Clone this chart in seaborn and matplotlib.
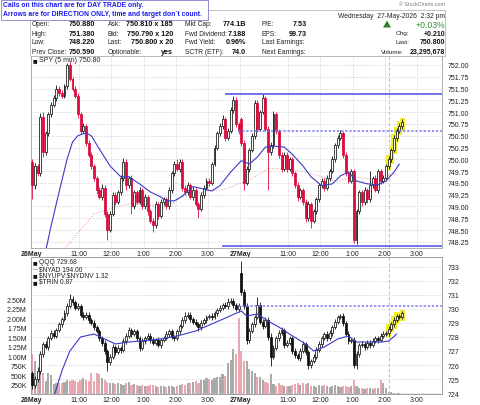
import numpy as np
import matplotlib
matplotlib.use("Agg")
import matplotlib.pyplot as plt
import seaborn as sns
from matplotlib.patches import Rectangle, Polygon

# ---------------- data ----------------
time_ticks = [0, 18, 30, 42, 54, 66, 78, 96, 108, 120, 132, 144]
time_labels = ["26May", "11:00", "12:00", "1:00", "2:00", "3:00",
               "27May", "11:00", "12:00", "1:00", "2:00", "3:00"]

spy_open_d1 = 749.95
spy_open_d2 = 750.85
spy_close_d1 = [749.45, 749.85, 749.70, 750.90, 750.15, 750.55, 750.95, 751.15, 751.30, 751.50,
                751.40, 751.35, 751.55, 752.00, 751.70, 751.50, 751.35, 750.95, 750.60, 750.70,
                750.35, 750.10, 749.85, 749.60, 749.35, 749.20, 749.40, 748.85, 748.50, 748.85,
                749.25, 749.10, 749.30, 749.60, 749.95, 749.45, 749.60, 749.00, 749.30, 749.10,
                749.35, 749.00, 749.20, 748.90, 748.70, 748.60, 749.05, 748.80, 749.10, 749.15,
                749.00, 749.35, 749.70, 749.90, 749.80, 749.95, 749.40, 749.30, 749.45, 749.20,
                749.35, 749.05, 748.95, 749.25, 749.40, 749.55, 749.50, 749.90, 750.25, 750.55,
                750.70, 750.85, 750.45, 750.60, 751.05, 751.25, 750.75, 750.59]
spy_close_d2 = [750.35, 749.50, 749.80, 750.20, 750.50, 751.20, 750.65, 751.00, 751.30, 750.65,
                750.15, 750.30, 750.95, 750.60, 750.10, 749.80, 750.10, 749.80, 750.00, 749.70,
                749.45, 749.20, 749.35, 749.10, 748.75, 749.05, 748.70, 748.90, 749.15, 749.45,
                749.55, 749.40, 749.60, 749.75, 750.00, 750.30, 750.45, 750.55, 750.10, 749.70,
                749.55, 749.75, 748.30, 748.90, 749.30, 749.10, 749.35, 749.15, 749.45, 749.60,
                749.35, 749.75, 749.55, 749.60, 749.85, 750.00, 750.20, 750.45, 750.60, 750.70,
                750.80]
# wick lengths in cents
spy_upper_wick = [5, 8, 6, 8, 10, 6, 5, 6, 6, 8,
                  5, 6, 5, 5, 8, 5, 6, 5, 5, 8,
                  5, 6, 5, 5, 5, 6, 8, 5, 5, 6,
                  5, 6, 5, 6, 8, 5, 5, 6, 5, 6,
                  6, 5, 6, 5, 5, 5, 6, 5, 5, 6,
                  5, 6, 5, 6, 10, 5, 5, 5, 6, 5,
                  6, 5, 5, 6, 5, 6, 5, 5, 6, 5,
                  6, 8, 5, 6, 6, 10, 8, 5,
                  5, 6, 6, 5, 6, 5, 6, 5, 8, 5,
                  5, 6, 8, 5, 5, 6, 5, 6, 5, 5,
                  5, 6, 5, 5, 5, 6, 5, 5, 6, 5,
                  6, 5, 6, 5, 6, 5, 6, 8, 5, 5,
                  6, 5, 5, 5, 6, 5, 6, 5, 30, 5,
                  6, 5, 5, 6, 5, 6, 5, 6, 6, 8,
                  5]
spy_lower_wick = [30, 8, 6, 5, 10, 5, 6, 5, 5, 6,
                  6, 5, 6, 5, 5, 6, 5, 8, 6, 5,
                  6, 5, 5, 6, 8, 5, 6, 8, 20, 5,
                  5, 6, 5, 5, 5, 10, 5, 15, 6, 5,
                  5, 6, 5, 8, 6, 15, 5, 6, 5, 6,
                  6, 5, 6, 5, 5, 6, 8, 5, 6, 5,
                  6, 5, 20, 5, 6, 5, 6, 5, 5, 6,
                  5, 6, 6, 5, 5, 6, 6, 5,
                  6, 15, 5, 6, 5, 6, 8, 5, 5, 6,
                  80, 6, 5, 6, 8, 6, 5, 6, 5, 6,
                  6, 8, 5, 6, 8, 5, 15, 5, 6, 5,
                  6, 8, 5, 6, 5, 6, 5, 5, 8, 6,
                  6, 5, 8, 10, 5, 8, 6, 8, 5, 6,
                  5, 6, 8, 6, 5, 5, 6, 5, 6, 5,
                  6]

qqq_open_d1 = 725.40
qqq_open_d2 = 732.60
qqq_close_d1 = [724.60, 725.00, 725.60, 726.80, 727.50, 727.30, 727.90, 728.30, 728.10, 728.50,
                728.90, 729.30, 729.70, 730.20, 730.70, 730.50, 730.10, 730.20, 729.60, 729.40,
                729.60, 729.20, 729.00, 728.70, 728.40, 727.90, 727.60, 727.00, 726.20, 726.60,
                727.30, 726.90, 727.20, 727.10, 727.70, 728.10, 728.50, 728.20, 728.40, 727.90,
                727.20, 727.70, 727.90, 728.10, 727.80, 727.60, 727.80, 727.40, 727.80, 727.90,
                728.20, 728.40, 728.00, 727.90, 728.40, 728.80, 729.20, 729.50, 729.60, 729.30,
                729.10, 728.90, 728.70, 729.00, 729.20, 729.40, 729.50, 729.40, 729.70, 729.90,
                730.10, 730.30, 730.20, 730.50, 730.60, 730.30, 730.00, 730.21]
qqq_close_d2 = [731.20, 730.20, 727.80, 728.40, 728.90, 729.40, 730.30, 729.10, 728.80, 729.20,
                728.00, 726.60, 727.20, 727.90, 728.30, 728.50, 727.40, 727.60, 727.90, 727.00,
                726.70, 726.50, 727.00, 727.50, 726.90, 726.00, 726.30, 726.60, 727.10, 727.50,
                727.90, 728.20, 727.90, 728.30, 728.70, 729.10, 729.40, 729.50, 729.00, 728.20,
                727.70, 727.80, 726.00, 726.80, 727.40, 727.50, 727.30, 727.60, 727.40, 727.70,
                727.90, 727.80, 728.10, 728.20, 728.30, 728.60, 728.90, 729.20, 729.50, 729.40,
                729.68]
qqq_upper_wick = [20, 20, 25, 20, 15, 20, 15, 20, 20, 15,
                  20, 15, 20, 25, 40, 20, 15, 20, 15, 20,
                  15, 20, 15, 20, 15, 20, 15, 20, 15, 20,
                  20, 15, 20, 15, 20, 15, 20, 15, 20, 15,
                  15, 20, 15, 20, 15, 20, 15, 20, 15, 20,
                  20, 15, 20, 15, 20, 15, 20, 25, 15, 20,
                  15, 20, 15, 20, 15, 20, 15, 20, 15, 20,
                  20, 15, 20, 25, 15, 20, 15, 20,
                  80, 20, 20, 25, 20, 20, 55, 20, 15, 20,
                  20, 25, 20, 15, 20, 20, 15, 20, 20, 15,
                  20, 15, 20, 20, 15, 20, 15, 20, 15, 20,
                  20, 15, 20, 20, 15, 20, 20, 15, 20, 15,
                  20, 15, 20, 20, 15, 20, 15, 20, 15, 20,
                  15, 20, 15, 20, 15, 20, 15, 20, 15, 15,
                  15]
qqq_lower_wick = [30, 25, 20, 25, 20, 15, 20, 15, 20, 15,
                  15, 20, 15, 20, 15, 20, 15, 20, 15, 20,
                  15, 20, 15, 20, 15, 20, 25, 20, 60, 20,
                  15, 20, 15, 25, 15, 20, 15, 20, 15, 20,
                  20, 15, 20, 15, 20, 15, 20, 15, 20, 15,
                  15, 20, 15, 20, 15, 20, 15, 20, 15, 20,
                  20, 15, 30, 20, 15, 20, 15, 20, 15, 20,
                  15, 20, 15, 20, 15, 20, 15, 20,
                  20, 20, 30, 20, 15, 20, 15, 20, 20, 15,
                  20, 70, 20, 15, 20, 15, 20, 15, 20, 20,
                  20, 15, 20, 15, 20, 30, 20, 15, 20, 15,
                  20, 15, 20, 15, 20, 15, 20, 15, 20, 15,
                  20, 15, 20, 25, 20, 15, 20, 15, 20, 15,
                  15, 20, 15, 20, 15, 20, 15, 20, 15, 15,
                  15]

# volume in thousands of shares
volume_k = [1060, 880, 520, 560, 550, 340, 560, 500, 260, 300,
            300, 280, 320, 380, 340, 360, 350, 330, 380, 420,
            360, 340, 560, 350, 560, 540, 420, 380, 330, 300,
            280, 260, 300, 260, 250, 280, 320, 230, 260, 250,
            220, 240, 200, 220, 250, 230, 200, 180, 210, 200,
            190, 210, 200, 180, 220, 250, 260, 240, 300, 280,
            320, 350, 300, 360, 380, 420, 400, 360, 420, 460,
            440, 520, 480, 820, 900, 1200, 1050, 2000,
            1140, 870, 870, 670, 600, 550, 450, 440, 380, 320,
            300, 530, 260, 220, 280, 240, 200, 210, 220, 240,
            260, 280, 250, 300, 260, 300, 220, 200, 180, 230,
            200, 250, 220, 180, 210, 240, 200, 190, 220, 210,
            180, 200, 370, 200, 150, 170, 140, 160, 150, 140,
            170, 150, 370, 300, 160, 60, 40, 30, 20, 20,
            10]

# moving average (blue) on SPY panel, read at bar positions
spy_ma_bar = [3, 5, 7, 10, 13, 15, 17, 20, 22, 25, 29, 33, 36, 40, 44, 48, 50, 53, 56, 60, 64,
              67, 70, 74, 78, 81, 84, 87, 90, 94, 97, 101, 104, 108, 112, 115, 118, 121, 125,
              129, 132, 135, 137]
spy_ma_val = [747.70, 748.06, 748.59, 749.31, 750.01, 750.37, 750.50, 750.56, 750.50, 750.22,
              749.86, 749.63, 749.63, 749.48, 749.31, 749.20, 749.12, 749.12, 749.22, 749.42,
              749.37, 749.33, 749.44, 749.73, 749.97, 749.90, 750.05, 750.26, 750.28, 750.26,
              750.11, 749.86, 749.63, 749.44, 749.48, 749.65, 749.73, 749.54, 749.48, 749.46,
              749.54, 749.73, 749.90]
# long moving average (pink dotted)
spy_ma2_bar = [10, 12, 23, 31, 37, 50, 56, 64, 72, 77, 81, 88, 95, 102, 108, 114, 119, 127, 136]
spy_ma2_val = [747.90, 748.10, 748.84, 748.99, 749.06, 748.99, 749.20, 749.31, 749.37, 749.48,
               749.56, 749.80, 749.80, 749.73, 749.63, 749.52, 749.63, 749.58, 749.69]
# blue line on lower panel
qqq_line_bar = [8, 11, 14, 18, 23, 27, 31, 36, 40, 48, 54, 61, 67, 73, 78, 80, 84, 88, 92, 96,
                102, 105, 109, 114, 118, 121, 126, 130, 133, 136]
qqq_line_val = [723.71, 725.57, 727.00, 728.00, 728.21, 727.86, 727.50, 727.64, 727.71, 727.86,
                728.07, 728.43, 728.93, 729.43, 729.86, 729.50, 729.64, 729.14, 728.71, 728.21,
                727.50, 727.00, 727.29, 727.86, 728.07, 727.64, 727.64, 727.64, 727.71, 728.21]

spy_day2_high = 751.39
spy_day2_low = 748.17
spy_prev_close = 750.59
qqq_prev_close = 730.21
highlight_bars = [133, 134, 135, 136, 137, 138]
marker_bar = 133.1

# ---------------- style ----------------
sns.set_style("white")
plt.rcParams['font.family'] = ['Liberation Sans', 'DejaVu Sans']

W, H = 480, 406
fig = plt.figure(figsize=(W / 100, H / 100), dpi=100)
fig.patch.set_facecolor('white')


def axes_px(x0, y0, x1, y1, **kw):
    return fig.add_axes([x0 / W, 1 - y1 / H, (x1 - x0) / W, (y1 - y0) / H], **kw)


def ftext(x, y, s, **kw):
    kw.setdefault('va', 'center')
    fig.text(x / W, 1 - y / H, s, **kw)


def build(open1, close1, open2, close2, up_w, lo_w):
    c = np.array(close1 + close2)
    o = np.concatenate([[open1], close1[:-1], [open2], close2[:-1]])
    h = np.maximum(o, c) + np.array(up_w) / 100.0
    l = np.minimum(o, c) - np.array(lo_w) / 100.0
    return o, h, l, c


spy_o, spy_h, spy_l, spy_c = build(spy_open_d1, spy_close_d1, spy_open_d2, spy_close_d2,
                                   spy_upper_wick, spy_lower_wick)
qqq_o, qqq_h, qqq_l, qqq_c = build(qqq_open_d1, qqq_close_d1, qqq_open_d2, qqq_close_d2,
                                   qqq_upper_wick, qqq_lower_wick)
idx = np.arange(len(spy_c))
XMAX = 152.9
tick_pos = [t - 0.5 for t in time_ticks]
GRID = dict(color='#c9c9c9', linestyle=(0, (1, 1.5)), linewidth=0.6)
SPINE = '#a0a0a0'


def draw_candles(ax, o, h, l, c, up_face, up_edge, dn_face, dn_edge, minh, hlpad):
    up = c >= o
    face = [up_face if u else dn_face for u in up]
    edge = [up_edge if u else dn_edge for u in up]
    hl = np.array(highlight_bars)
    ax.bar(hl, (h - l)[hl] + 2 * hlpad, bottom=l[hl] - hlpad, width=1.9,
           color='#f2ee2a', zorder=2, linewidth=0)
    ax.vlines(idx, l, h, colors=edge, linewidth=0.6, zorder=3)
    body = np.maximum(np.abs(c - o), minh)
    ax.bar(idx, body, bottom=np.minimum(o, c), width=0.72, color=face,
           edgecolor=edge, linewidth=0.55, zorder=4)


def style_time_axis(ax, show_labels=True):
    ax.set_xlim(-0.5, XMAX)
    ax.set_xticks(tick_pos)
    if show_labels:
        ax.set_xticklabels(time_labels, fontsize=5)
        for lab in ax.get_xticklabels():
            if 'May' in lab.get_text():
                lab.set_fontweight('bold')
    ax.tick_params(axis='x', length=0, pad=1.2, colors='#222222')


# ---------------- top panel (SPY) ----------------
ax1 = axes_px(31, 57, 442, 249)
draw_candles(ax1, spy_o, spy_h, spy_l, spy_c, 'white', '#111111', '#dc0a3c', '#dc0a3c', 0.02, 0.03)
sns.lineplot(x=spy_ma_bar, y=spy_ma_val, ax=ax1, color='#3b3bc8', linewidth=0.8, zorder=5)
sns.lineplot(x=spy_ma2_bar, y=spy_ma2_val, ax=ax1, color='#f0a0aa', linewidth=0.8, zorder=1)
ax1.lines[-1].set_linestyle((0, (1, 1.5)))
ax1.hlines(spy_day2_high, 71.9, XMAX, color='#4b4be0', linewidth=1.1, zorder=6)
ax1.hlines(spy_day2_low, 70.8, XMAX, color='#4b4be0', linewidth=1.1, zorder=6)
ax1.hlines(spy_prev_close, 76.7, XMAX, color='#7878f4', linewidth=1.1,
           linestyle=(0, (1.5, 1.2)), zorder=6)
ax1.axvline(marker_bar, color='#f3c44a', linewidth=0.8, linestyle=(0, (3, 2)), zorder=1)
ax1.set_ylim(748.12, 752.19)
ax1.set_yticks(np.arange(748.25, 752.01, 0.25))
ax1.yaxis.tick_right()
ax1.set_yticklabels([f"{v:.2f}" for v in np.arange(748.25, 752.01, 0.25)], fontsize=5)
ax1.tick_params(axis='y', length=0, pad=4, colors='#222222')
style_time_axis(ax1)
ax1.grid(True, **GRID)
ax1.set_axisbelow(True)
for s in ax1.spines.values():
    s.set_color(SPINE)
    s.set_linewidth(0.6)
ax1.set_xlabel('')
ax1.set_ylabel('')

# ---------------- bottom panel (QQQ + volume) ----------------
axv = axes_px(31, 258, 442, 395)
vol_colors = ['#a9a9a9' if c >= o else '#eba7b0' for o, c in zip(spy_o, spy_c)]
axv.bar(idx, np.array(volume_k) * 1000, width=0.8, color=vol_colors, linewidth=0, zorder=1)
axv.set_ylim(0, 3.62e6)
vt = [250e3, 500e3, 750e3, 1.0e6, 1.25e6, 1.5e6, 1.75e6, 2.0e6, 2.25e6, 2.5e6]
axv.set_yticks(vt)
axv.set_yticklabels(["250K", "500K", "750K", "1.00M", "1.25M", "1.50M", "1.75M",
                     "2.00M", "2.25M", "2.50M"], fontsize=5)
axv.tick_params(axis='y', length=0, pad=3, colors='#222222')
style_time_axis(axv)
axv.grid(False)

axq = axv.twinx()
draw_candles(axq, qqq_o, qqq_h, qqq_l, qqq_c, 'white', '#111111', '#111111', '#111111', 0.05, 0.12)
sns.lineplot(x=qqq_line_bar, y=qqq_line_val, ax=axq, color='#3b3bc8', linewidth=0.8, zorder=5)
axq.hlines(qqq_prev_close, 76.7, XMAX, color='#7878f4', linewidth=1.1,
           linestyle=(0, (1.5, 1.2)), zorder=6)
axq.axvline(marker_bar, color='#f3c44a', linewidth=0.8, linestyle=(0, (3, 2)), zorder=1)
axq.set_ylim(723.93, 733.71)
axq.set_yticks(range(724, 734))
axq.set_yticklabels([str(v) for v in range(724, 734)], fontsize=5)
axq.tick_params(axis='y', length=0, pad=4, colors='#222222')
axq.set_xlim(-0.5, XMAX)
axq.set_xticks(tick_pos)
axq.grid(True, **GRID)
axq.set_axisbelow(True)
axq.set_xlabel('')
axq.set_ylabel('')
for a in (axv, axq):
    for s in a.spines.values():
        s.set_color(SPINE)
        s.set_linewidth(0.6)

# ---------------- legends inside panels ----------------
ftext(33, 61, "\u25a0", fontsize=3.5, color='#111111', family=['DejaVu Sans'])
ftext(39, 61, "SPY (5 min) 750.80", fontsize=5, color='#222222')
leg = ["QQQ 729.68", "\\$NYAD 194.00", "\\$NYUPV:\\$NYDNV 1.32", "\\$TRIN 0.87"]
icons = ["\u25a0", "\u2014", "\u25a0", "\u25a0"]
for k, (t, ic) in enumerate(zip(leg, icons)):
    yy = 263 + k * 6.5
    ftext(33, yy, ic, fontsize=3.5, color='#111111', family=['DejaVu Sans'])
    ftext(39, yy, t, fontsize=4.8, color='#222222')

# ---------------- header ----------------
fig.patches.append(Rectangle((30 / W, 1 - 57 / H), 415 / W, 46 / H, transform=fig.transFigure,
                             facecolor='white', edgecolor='#b5b5b5', linewidth=0.6, zorder=0))
fig.patches.append(Rectangle((0.5 / W, 1 - 21 / H), 207 / W, 20.5 / H, transform=fig.transFigure,
                             facecolor='white', edgecolor='#8f8fd0', linewidth=0.7, zorder=1))
ftext(3, 5.5, "Calls on this chart are for DAY TRADE only.", fontsize=4.9,
      fontweight='bold', color='#1b1bf0', zorder=2)
ftext(3, 15, "Arrows are for DIRECTION ONLY, time and target don`t count.", fontsize=4.9,
      fontweight='bold', color='#1b1bf0', zorder=2)

ftext(445, 5, "\u00a9 StockCharts.com", fontsize=3.8, color='#777777', ha='right')
ftext(445, 16, "Wednesday  27-May-2026  2:32 pm", fontsize=4.9, color='#222222', ha='right')

rows_y = [25, 34, 43, 52]
col1_l = ["Open:", "High:", "Low:", "Prev Close:"]
col1_v = ["750.880", "751.380", "748.220", "750.590"]
col2_l = ["Ask:", "Bid:", "Last:", "Optionable:"]
col2_v = ["750.810 x 185", "750.790 x 120", "750.800 x 20", "yes"]
col3_l = ["Mkt Cap:", "Fwd Dividend:", "Fwd Yield:", "SCTR (ETF):"]
col3_v = ["774.1B", "7.188", "0.96%", "74.0"]
col4_l = ["P/E:", "EPS:", "Last Earnings:", "Next Earnings:"]
col4_v = ["7.53", "99.73", "", ""]
col5_l = ["", "Chg:", "Last:", "Volume:"]
col5_x = [0, 396, 396, 381]
col5_v = ["+0.03%", "+0.210", "750.800", "23,295,678"]

for k, y in enumerate(rows_y):
    ftext(32, y, col1_l[k], fontsize=4.8, color='#222222')
    ftext(95, y, col1_v[k], fontsize=5.2, fontweight='bold', color='#111111', ha='right')
    ftext(108, y, col2_l[k], fontsize=4.8, color='#222222')
    ftext(173, y, col2_v[k], fontsize=5.2, fontweight='bold', color='#111111', ha='right')
    ftext(185, y, col3_l[k], fontsize=4.8, color='#222222')
    ftext(246, y, col3_v[k], fontsize=5.2, fontweight='bold', color='#111111', ha='right')
    ftext(262, y, col4_l[k], fontsize=4.8, color='#222222')
    ftext(307, y, col4_v[k], fontsize=5.2, fontweight='bold', color='#111111', ha='right')
    if col5_l[k]:
        ftext(col5_x[k], y, col5_l[k], fontsize=4.6, color='#222222')
    if k == 0:
        ftext(445, y, col5_v[k], fontsize=6.2, color='#2f8f2f', ha='right')
    else:
        ftext(445, y, col5_v[k], fontsize=5.0, fontweight='bold', color='#111111', ha='right')

fig.patches.append(Polygon([[383 / W, 1 - 28.5 / H], [391 / W, 1 - 28.5 / H], [387 / W, 1 - 21.5 / H]],
                           closed=True, transform=fig.transFigure, facecolor='#2f7f2f',
                           edgecolor='none', zorder=2))

fig.savefig("out.png", dpi=100, facecolor='white')
